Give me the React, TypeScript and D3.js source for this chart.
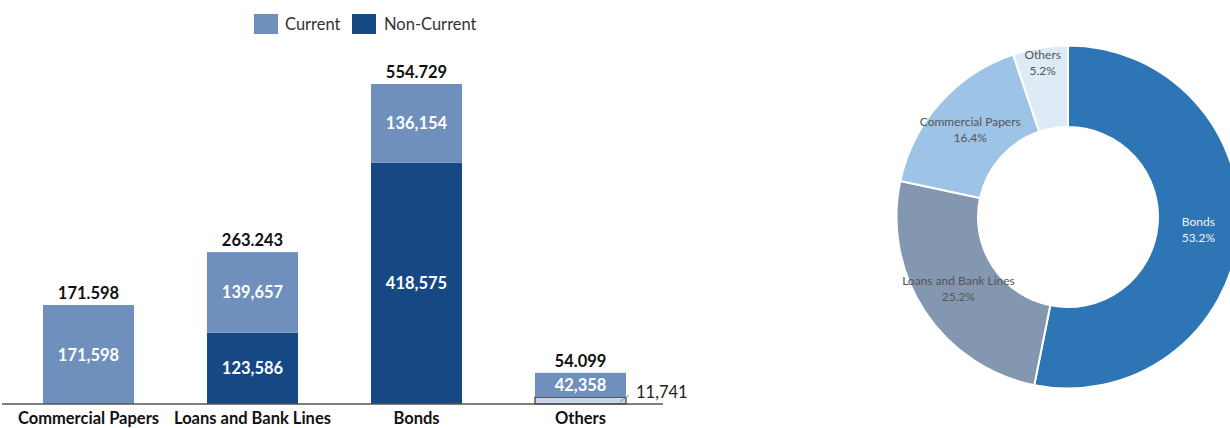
import React from "react";
import * as d3 from "d3";

const categories = ["Commercial Papers", "Loans and Bank Lines", "Bonds", "Others"];
const currentValues = [171.598, 139.657, 136.154, 42.358];
const nonCurrentValues = [0, 123.586, 418.575, 11.741];
const legendLabels = ["Current", "Non-Current"];
const donutColors = ["#9dc3e6", "#8497b0", "#2e75b6", "#deebf7"];

const FONT = "Lato, 'Open Sans', sans-serif";
const C_CUR = "#6f8fbd";
const C_NON = "#164884";

export default function App() {
  const baseY = 404;
  const totals = categories.map((_, i) => currentValues[i] + nonCurrentValues[i]);
  const maxT = d3.max(totals) as number;
  const y = d3.scaleLinear().domain([0, maxT]).range([baseY, 84]);
  const x = d3.scaleBand<string>().domain(categories).range([43, 626]).paddingInner(0.445).paddingOuter(0);
  const bw = x.bandwidth();
  const fmtComma = (v: number) => d3.format(",")(Math.round(v * 1000));
  const fmtDot = (v: number) => v.toFixed(3);

  // donut
  const cx = 1068, cy = 217, rO = 171.5, rI = 90;
  const donutOrder = [2, 1, 0, 3];
  const pie = d3.pie<number>().sort(null).value((i) => totals[i]).startAngle(0).endAngle(2 * Math.PI);
  const arcs = pie(donutOrder);
  const arcGen = d3.arc<d3.PieArcDatum<number>>().innerRadius(rI).outerRadius(rO);
  const grand = d3.sum(totals);

  return (
    <svg width={1230} height={428} style={{ position: "absolute", left: 0, top: 0, fontFamily: FONT }}>
      <rect width={1230} height={428} fill="#fff" />
      {/* legend */}
      <g>
        <rect x={254} y={14} width={24} height={20} fill={C_CUR} />
        <text x={285} y={30} fontSize={16.5} fill="#333">{legendLabels[0]}</text>
        <rect x={352} y={14} width={24} height={20} fill={C_NON} />
        <text x={384} y={30} fontSize={16.5} fill="#333">{legendLabels[1]}</text>
      </g>
      {/* bars */}
      {categories.map((c, i) => {
        const x0 = x(c) as number;
        const nc = nonCurrentValues[i];
        const cur = currentValues[i];
        const yNcTop = y(nc);
        const yTop = y(nc + cur);
        const isSmall = nc > 0 && baseY - yNcTop < 15;
        return (
          <g key={c}>
            {nc > 0 && (
              <rect x={x0} y={yNcTop} width={bw} height={baseY - yNcTop}
                fill={isSmall ? "#c9d4e4" : C_NON} stroke={isSmall ? "#111" : "none"} strokeWidth={1} />
            )}
            <rect x={x0} y={yTop} width={bw} height={yNcTop - yTop} fill={C_CUR} />
            <text x={x0 + bw / 2} y={(yTop + yNcTop) / 2 + 6} textAnchor="middle" fontSize={16.5} fontWeight="bold" fill="#fff">
              {fmtComma(cur)}
            </text>
            {nc > 0 && !isSmall && (
              <text x={x0 + bw / 2} y={(yNcTop + baseY) / 2 + 6} textAnchor="middle" fontSize={16.5} fontWeight="bold" fill="#fff">
                {fmtComma(nc)}
              </text>
            )}
            {isSmall && (
              <g>
                <line x1={x0 + bw - 6} y1={baseY - 2} x2={x0 + bw + 3} y2={baseY - 9} stroke="#888" strokeWidth={1} />
                <text x={x0 + bw + 10} y={baseY - 6} fontSize={16.5} fill="#222">{fmtComma(nc)}</text>
              </g>
            )}
            <text x={x0 + bw / 2} y={yTop - 6} textAnchor="middle" fontSize={16.5} fontWeight="bold" fill="#111">
              {fmtDot(totals[i])}
            </text>
            <text x={x0 + bw / 2} y={424} textAnchor="middle" fontSize={16.5} fontWeight="bold" fill="#111">
              {c}
            </text>
          </g>
        );
      })}
      <line x1={2} x2={663} y1={baseY} y2={baseY} stroke="#555" strokeWidth={1.5} />
      {/* donut */}
      <g transform={`translate(${cx},${cy})`}>
        {arcs.map((a) => (
          <path key={a.data} d={arcGen(a) as string} fill={donutColors[a.data]} stroke="#fff" strokeWidth={2} />
        ))}
        {arcs.map((a) => {
          const mid = (a.startAngle + a.endAngle) / 2;
          const frac = (a.endAngle - a.startAngle) / (2 * Math.PI);
          const r = frac < 0.08 ? 156 : 131;
          const lx = r * Math.sin(mid);
          const ly = -r * Math.cos(mid);
          const col = a.data === 2 ? "#eef3fa" : "#555";
          return (
            <g key={"l" + a.data} fontSize={12} fill={col} textAnchor="middle">
              <text x={lx} y={ly - 4}>{categories[a.data]}</text>
              <text x={lx} y={ly + 12}>{((totals[a.data] / grand) * 100).toFixed(1)}%</text>
            </g>
          );
        })}
      </g>
    </svg>
  );
}
